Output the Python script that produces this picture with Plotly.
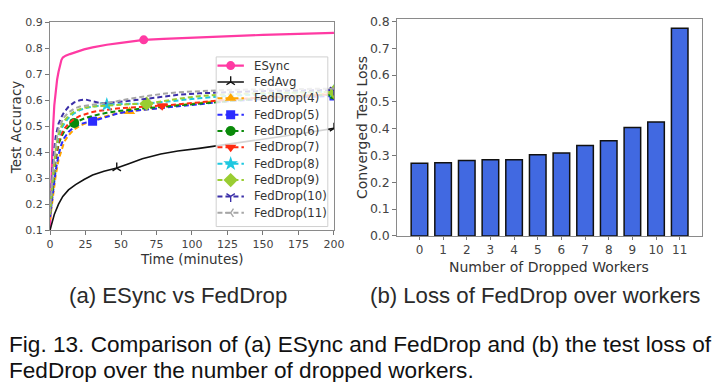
import plotly.graph_objects as go

W, H = 719, 382

# ---------------- panel (a): test accuracy over time ----------------
esync_t = [0, 1, 2, 3, 4, 5, 6, 7, 8, 9, 11, 14, 18, 24, 30, 40, 50, 66, 80, 100, 125, 150, 175, 200]
esync_acc = [0.10, 0.30, 0.48, 0.58, 0.64, 0.68, 0.71, 0.735, 0.755, 0.765, 0.772, 0.778, 0.786, 0.796,
             0.804, 0.814, 0.821, 0.833, 0.837, 0.842, 0.847, 0.852, 0.856, 0.860]

fedavg_t = [0, 3, 6, 9, 13, 18, 24, 30, 38, 47, 55, 65, 78, 90, 105, 125, 150, 175, 200]
fedavg_acc = [0.10, 0.16, 0.20, 0.23, 0.255, 0.275, 0.295, 0.312, 0.327, 0.339, 0.355, 0.375, 0.393,
              0.405, 0.415, 0.430, 0.450, 0.470, 0.492]

drop_t = [0, 2, 4, 6, 8, 10, 13, 17, 21, 25, 30, 35, 40, 47, 56, 68, 79, 90, 105, 125, 150, 175, 200]
fd4 = [0.14, 0.23, 0.31, 0.37, 0.41, 0.44, 0.465, 0.488, 0.502, 0.512, 0.522, 0.532, 0.540, 0.549,
       0.557, 0.566, 0.574, 0.580, 0.590, 0.601, 0.611, 0.619, 0.626]
fd5 = [0.15, 0.25, 0.33, 0.39, 0.43, 0.455, 0.478, 0.497, 0.508, 0.514, 0.519, 0.528, 0.537, 0.548,
       0.558, 0.565, 0.571, 0.576, 0.585, 0.596, 0.605, 0.612, 0.617]
fd6 = [0.16, 0.28, 0.37, 0.43, 0.46, 0.48, 0.498, 0.513, 0.524, 0.532, 0.540, 0.547, 0.552, 0.558,
       0.564, 0.570, 0.575, 0.580, 0.588, 0.598, 0.608, 0.616, 0.622]
fd7 = [0.16, 0.29, 0.38, 0.44, 0.47, 0.49, 0.51, 0.528, 0.540, 0.548, 0.555, 0.560, 0.564, 0.568,
       0.572, 0.576, 0.579, 0.584, 0.592, 0.602, 0.611, 0.618, 0.623]
fd8 = [0.16, 0.30, 0.40, 0.46, 0.49, 0.51, 0.532, 0.550, 0.562, 0.570, 0.576, 0.580, 0.583, 0.585,
       0.586, 0.588, 0.593, 0.600, 0.608, 0.617, 0.624, 0.630, 0.634]
fd9 = [0.16, 0.31, 0.41, 0.47, 0.50, 0.52, 0.54, 0.556, 0.566, 0.572, 0.576, 0.578, 0.580, 0.582,
       0.585, 0.587, 0.597, 0.606, 0.616, 0.623, 0.628, 0.631, 0.633]
fd10 = [0.17, 0.36, 0.46, 0.51, 0.535, 0.555, 0.575, 0.592, 0.600, 0.603, 0.596, 0.590, 0.589, 0.592,
        0.598, 0.606, 0.614, 0.621, 0.627, 0.632, 0.636, 0.638, 0.640]
fd11 = [0.17, 0.33, 0.43, 0.49, 0.515, 0.535, 0.553, 0.568, 0.576, 0.580, 0.583, 0.587, 0.590, 0.596,
        0.606, 0.616, 0.625, 0.631, 0.636, 0.640, 0.642, 0.644, 0.645]

series_names = ["ESync", "FedAvg", "FedDrop(4)", "FedDrop(5)", "FedDrop(6)", "FedDrop(7)",
                "FedDrop(8)", "FedDrop(9)", "FedDrop(10)", "FedDrop(11)"]
series_t = [esync_t, fedavg_t] + [drop_t] * 8
series_y = [esync_acc, fedavg_acc, fd4, fd5, fd6, fd7, fd8, fd9, fd10, fd11]
# times at which a marker is drawn on each curve
marker_times = [[66], [47, 200], [56, 200], [30, 200], [17, 200], [79, 200], [40, 200], [68, 200], [200], [200]]

# ---------------- panel (b): converged test loss ----------------
dropped_workers = list(range(12))
test_loss = [0.271, 0.273, 0.281, 0.284, 0.284, 0.303, 0.309, 0.337, 0.355, 0.405, 0.425, 0.775]

# ---------------- styles ----------------
colors = ["#ff3aa3", "#111111", "#ffa500", "#2b2bff", "#0a8a0a", "#ff2a10",
          "#1ec8e0", "#9acd32", "#3b2fa8", "#a6a6a6"]
symbols = ["circle", "y-up-open", "triangle-up", "square", "circle", "triangle-down",
           "star", "diamond", "y-down-open", "y-left-open"]
msizes = [9, 7, 10, 9, 10, 10, 11, 11, 7, 7]
dashes = ["solid", "solid"] + ["5px,3px"] * 8
widths = [2.2, 1.6] + [2.0] * 8

# axes geometry (pixels)
AX_L, AX_R, AX_T, AX_B = 47, 337, 17, 232
BX_L, BX_R, BX_T, BX_B = 401.7, 712.7, 13.3, 238
XR = [0, 200]
YR = [0.1, 0.9]


def dx(px):
    return XR[0] + (px - AX_L) / (AX_R - AX_L) * (XR[1] - XR[0])


def dy(py):
    return YR[0] + (AX_B - py) / (AX_B - AX_T) * (YR[1] - YR[0])


fig = go.Figure()

for i, name in enumerate(series_names):
    fig.add_trace(go.Scatter(
        x=series_t[i], y=series_y[i], mode="lines", name=name,
        line=dict(color=colors[i], width=widths[i], dash=dashes[i]),
        xaxis="x", yaxis="y", showlegend=False, hoverinfo="skip"))
    mx = [t for t in series_t[i] if t in marker_times[i]]
    my = [v for t, v in zip(series_t[i], series_y[i]) if t in marker_times[i]]
    open_sym = symbols[i].endswith("open")
    fig.add_trace(go.Scatter(
        x=mx, y=my, mode="markers", showlegend=False, hoverinfo="skip",
        marker=dict(symbol=symbols[i], size=msizes[i], color=colors[i],
                    line=dict(color=colors[i], width=1.4 if open_sym else 0)),
        xaxis="x", yaxis="y", cliponaxis=True))

# ---- hand-built legend box (inside panel a) ----
LG_L, LG_R, LG_T, LG_B = 216.7, 330.7, 52.7, 228.3
fig.add_trace(go.Scatter(
    x=[dx(LG_L), dx(LG_R), dx(LG_R), dx(LG_L), dx(LG_L)],
    y=[dy(LG_B), dy(LG_B), dy(LG_T), dy(LG_T), dy(LG_B)],
    mode="lines", fill="toself", fillcolor="rgba(255,255,255,0.82)",
    line=dict(color="#d0d0d0", width=1), showlegend=False, hoverinfo="skip",
    xaxis="x", yaxis="y"))

annotations = []
for i, name in enumerate(series_names):
    py = 61.7 + i * 16.93
    fig.add_trace(go.Scatter(
        x=[dx(218), dx(245)], y=[dy(py), dy(py)], mode="lines",
        line=dict(color=colors[i], width=widths[i], dash=dashes[i]),
        showlegend=False, hoverinfo="skip", xaxis="x", yaxis="y"))
    open_sym = symbols[i].endswith("open")
    fig.add_trace(go.Scatter(
        x=[dx(231.5)], y=[dy(py)], mode="markers",
        marker=dict(symbol=symbols[i], size=msizes[i], color=colors[i],
                    line=dict(color=colors[i], width=1.4 if open_sym else 0)),
        showlegend=False, hoverinfo="skip", xaxis="x", yaxis="y"))
    annotations.append(dict(
        x=dx(253), y=dy(py), xref="x", yref="y", text=name, showarrow=False,
        xanchor="left", yanchor="middle",
        font=dict(family="DejaVu Sans", size=11.7, color="#333333")))

# ---- panel (b) bars ----
fig.add_trace(go.Bar(
    x=dropped_workers, y=test_loss, width=0.7,
    marker=dict(color="#4169e1", line=dict(color="#111111", width=1.5)),
    xaxis="x2", yaxis="y2", showlegend=False, hoverinfo="skip"))

tick_font_a = dict(family="DejaVu Sans", size=11, color="#444444")
tick_font_b = dict(family="DejaVu Sans", size=12.5, color="#444444")
tick_font_bx = dict(family="DejaVu Sans", size=12, color="#444444")
frame = dict(showline=True, linecolor="#8a8a8a", linewidth=1, mirror=True,
             ticks="outside", tickcolor="#777777", showgrid=False, zeroline=False)

fig.update_layout(
    width=W, height=H, margin=dict(l=0, r=0, t=0, b=0),
    paper_bgcolor="white", plot_bgcolor="white", showlegend=False,
    xaxis=dict(domain=[AX_L / W, AX_R / W], range=XR, tickvals=[0, 25, 50, 75, 100, 125, 150, 175, 200],
               tickfont=tick_font_a, anchor="y", ticklen=4, **frame),
    yaxis=dict(domain=[1 - AX_B / H, 1 - AX_T / H], range=YR,
               tickvals=[0.1, 0.2, 0.3, 0.4, 0.5, 0.6, 0.7, 0.8, 0.9], tickformat=".1f",
               tickfont=tick_font_a, anchor="x", ticklen=4, **frame),
    xaxis2=dict(domain=[BX_L / W, BX_R / W], range=[-0.935, 11.935], tickvals=dropped_workers,
                tickfont=tick_font_bx, anchor="y2", ticklen=3, **frame),
    yaxis2=dict(domain=[1 - BX_B / H, 1 - BX_T / H], range=[0, 0.81],
                tickvals=[0, 0.1, 0.2, 0.3, 0.4, 0.5, 0.6, 0.7, 0.8], tickformat=".1f",
                tickfont=tick_font_b, anchor="x2", ticklen=4, **frame),
)

title_a = dict(family="DejaVu Sans", size=13.5, color="#333333")
title_b = dict(family="DejaVu Sans", size=14, color="#333333")
cap_sub = dict(family="Liberation Sans, Arial, sans-serif", size=22.2, color="#2a2a2a")
cap_fig = dict(family="Liberation Sans, Arial, sans-serif", size=22.6, color="#111111")

annotations += [
    dict(text="Test Accuracy", x=11.7 / W, y=1 - 125 / H, xref="paper", yref="paper",
         textangle=-90, showarrow=False, xanchor="center", yanchor="middle", font=title_a),
    dict(text="Time (minutes)", x=192 / W, y=1 - 262 / H, xref="paper", yref="paper",
         showarrow=False, xanchor="center", yanchor="middle", font=title_a),
    dict(text="Converged Test Loss", x=365 / W, y=1 - 126 / H, xref="paper", yref="paper",
         textangle=-90, showarrow=False, xanchor="center", yanchor="middle", font=title_b),
    dict(text="Number of Dropped Workers", x=557 / W, y=1 - 270 / H, xref="paper", yref="paper",
         showarrow=False, xanchor="center", yanchor="middle", font=title_b),
    dict(text="(a) ESync vs FedDrop", x=177.5 / W, y=1 - 300 / H, xref="paper", yref="paper",
         showarrow=False, xanchor="center", yanchor="middle", font=cap_sub),
    dict(text="(b) Loss of FedDrop over workers", x=542 / W, y=1 - 300 / H, xref="paper", yref="paper",
         showarrow=False, xanchor="center", yanchor="middle", font=cap_sub),
    dict(text="Fig. 13. Comparison of (a) ESync and FedDrop and (b) the test loss of",
         x=3 / W, y=1 - 350 / H, xref="paper", yref="paper",
         showarrow=False, xanchor="left", yanchor="middle", font=cap_fig),
    dict(text="FedDrop over the number of dropped workers.",
         x=3 / W, y=1 - 377 / H, xref="paper", yref="paper",
         showarrow=False, xanchor="left", yanchor="middle", font=cap_fig),
]
fig.update_layout(annotations=annotations)

fig.write_html("out.html", config={"displayModeBar": False},
               post_script="document.body.style.margin='0';document.body.style.overflow='hidden';")
